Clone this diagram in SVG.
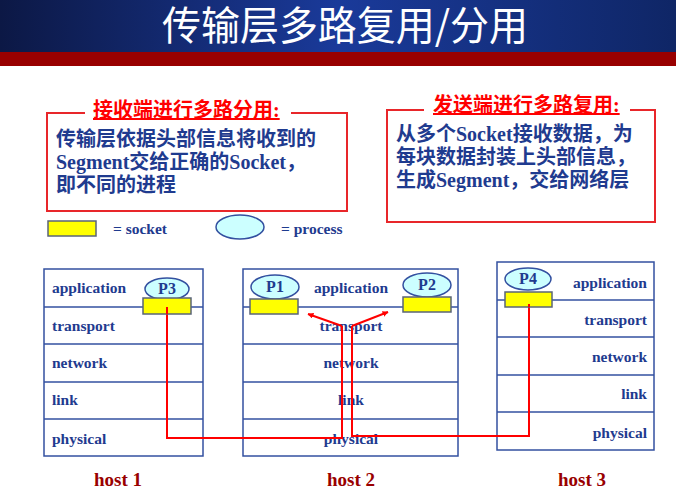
<svg xmlns="http://www.w3.org/2000/svg" width="676" height="495" viewBox="0 0 676 495">
  <defs>
    <linearGradient id="band" x1="0" y1="0" x2="1" y2="0">
      <stop offset="0" stop-color="#0c1845"/>
      <stop offset="0.5" stop-color="#1a3a9a"/>
      <stop offset="1" stop-color="#0f2666"/>
    </linearGradient>
    <marker id="arrow" viewBox="0 0 10 10" refX="9" refY="5" markerWidth="6" markerHeight="6" orient="auto" markerUnits="userSpaceOnUse">
      <path d="M0,0 L10,5 L0,10 z" fill="#ff0000"/>
    </marker>
    <style>
      .cjk { font-family: "Liberation Serif", "Noto Sans CJK SC", serif; font-weight: bold; }
      .body { font-size: 20px; fill: #1f3b8f; }
      .head { font-size: 20px; fill: #ff0000; text-decoration: underline; }
      .frame { fill: #ffffff; stroke: #e8262a; stroke-width: 2; }
      .gapfill { fill: #ffffff; }
      .host { fill: #ffffff; stroke: #3350a0; stroke-width: 1.5; }
      .sep { stroke: #3350a0; stroke-width: 1.5; }
      .lbl { font-family: "Liberation Serif", serif; font-weight: bold; font-size: 15.5px; fill: #1f3b8f; }
      .proc { fill: #ccffff; stroke: #3350a0; stroke-width: 1.5; }
      .sock { fill: #ffff00; stroke: #5a6478; stroke-width: 1.5; }
      .plbl { font-family: "Liberation Serif", serif; font-weight: bold; font-size: 16px; fill: #1f3b8f; text-anchor: middle; }
      .hostname { font-family: "Liberation Serif", serif; font-weight: bold; font-size: 19px; fill: #990000; text-anchor: middle; }
      .wire { fill: none; stroke: #ff0000; stroke-width: 2; }
    </style>
  </defs>

  <!-- title band -->
  <g id="title">
    <rect x="0" y="0" width="676" height="52" fill="url(#band)"/>
    <rect x="0" y="52" width="676" height="14" fill="#990000"/>
    <text x="345" y="40" text-anchor="middle" font-family="Noto Sans CJK SC, sans-serif" font-size="40" fill="#ffffff" textLength="366" lengthAdjust="spacingAndGlyphs">传输层多路复用/分用</text>
  </g>

  <!-- receiving side note -->
  <g id="demux-note">
    <rect class="frame" x="47" y="113" width="300" height="98"/>
    <rect class="gapfill" x="85" y="104" width="206" height="14"/>
    <text class="cjk head" x="93" y="117">接收端进行多路分用:</text>
    <text class="cjk body" x="56" y="146">传输层依据头部信息将收到的</text>
    <text class="cjk body" x="56" y="169">Segment交给正确的Socket，</text>
    <text class="cjk body" x="56" y="192">即不同的进程</text>
  </g>

  <!-- sending side note -->
  <g id="mux-note">
    <rect class="frame" x="387" y="110" width="268" height="112"/>
    <rect class="gapfill" x="424" y="101" width="206" height="14"/>
    <text class="cjk head" x="433" y="112">发送端进行多路复用:</text>
    <text class="cjk body" x="396" y="141">从多个Socket接收数据，为</text>
    <text class="cjk body" x="396" y="164">每块数据封装上头部信息，</text>
    <text class="cjk body" x="396" y="187">生成Segment，交给网络层</text>
  </g>

  <!-- legend -->
  <g id="legend">
    <rect class="sock" x="48" y="221" width="48" height="15"/>
    <text class="lbl" x="113" y="234">= socket</text>
    <ellipse class="proc" cx="240" cy="227" rx="24" ry="12"/>
    <text class="lbl" x="281" y="234">= process</text>
  </g>

  <!-- host 1 -->
  <g id="host1">
    <rect class="host" x="44" y="269" width="159" height="187"/>
    <line class="sep" x1="44" y1="307" x2="203" y2="307"/>
    <line class="sep" x1="44" y1="344" x2="203" y2="344"/>
    <line class="sep" x1="44" y1="382" x2="203" y2="382"/>
    <line class="sep" x1="44" y1="419" x2="203" y2="419"/>
    <text class="lbl" x="52" y="293">application</text>
    <text class="lbl" x="52" y="331">transport</text>
    <text class="lbl" x="52" y="368">network</text>
    <text class="lbl" x="52" y="405">link</text>
    <text class="lbl" x="52" y="444">physical</text>
    <text class="hostname" x="118" y="486">host 1</text>
  </g>

  <!-- host 2 -->
  <g id="host2">
    <rect class="host" x="243" y="269" width="215" height="187"/>
    <line class="sep" x1="243" y1="307" x2="458" y2="307"/>
    <line class="sep" x1="243" y1="344" x2="458" y2="344"/>
    <line class="sep" x1="243" y1="382" x2="458" y2="382"/>
    <line class="sep" x1="243" y1="419" x2="458" y2="419"/>
    <g text-anchor="middle">
      <text class="lbl" x="351" y="293">application</text>
      <text class="lbl" x="351" y="331">transport</text>
      <text class="lbl" x="351" y="368">network</text>
      <text class="lbl" x="351" y="405">link</text>
      <text class="lbl" x="351" y="444">physical</text>
    </g>
    <text class="hostname" x="351" y="486">host 2</text>
  </g>

  <!-- host 3 -->
  <g id="host3">
    <rect class="host" x="497" y="262" width="157" height="188"/>
    <line class="sep" x1="497" y1="300" x2="654" y2="300"/>
    <line class="sep" x1="497" y1="337" x2="654" y2="337"/>
    <line class="sep" x1="497" y1="375" x2="654" y2="375"/>
    <line class="sep" x1="497" y1="412" x2="654" y2="412"/>
    <g text-anchor="end">
      <text class="lbl" x="647" y="288">application</text>
      <text class="lbl" x="647" y="325">transport</text>
      <text class="lbl" x="647" y="362">network</text>
      <text class="lbl" x="647" y="399">link</text>
      <text class="lbl" x="647" y="438">physical</text>
    </g>
    <text class="hostname" x="582" y="486">host 3</text>
  </g>

  <!-- connectors -->
  <g id="connectors">
    <polyline class="wire" points="167,309 167,438 342,438 342,326" />
    <line class="wire" x1="342" y1="326" x2="308" y2="314" marker-end="url(#arrow)"/>
    <polyline class="wire" points="529,306 529,436 352,436 352,326" />
    <line class="wire" x1="352" y1="326" x2="388" y2="312" marker-end="url(#arrow)"/>
  </g>

  <!-- processes and sockets -->
  <g id="p3">
    <ellipse class="proc" cx="167" cy="289" rx="22" ry="11"/>
    <text class="plbl" x="167" y="294">P3</text>
    <rect class="sock" x="143" y="298" width="48" height="16"/>
  </g>
  <g id="p1">
    <ellipse class="proc" cx="275" cy="287" rx="24" ry="12"/>
    <text class="plbl" x="275" y="292">P1</text>
    <rect class="sock" x="250" y="299" width="48" height="15"/>
  </g>
  <g id="p2">
    <ellipse class="proc" cx="427" cy="285" rx="24" ry="12"/>
    <text class="plbl" x="427" y="290">P2</text>
    <rect class="sock" x="403" y="297" width="48" height="15"/>
  </g>
  <g id="p4">
    <ellipse class="proc" cx="528" cy="279" rx="23" ry="11"/>
    <text class="plbl" x="528" y="284">P4</text>
    <rect class="sock" x="505" y="292" width="47" height="15"/>
  </g>
  <!-- wire ends drawn over the socket boxes -->
  <g id="socket-taps">
    <line class="wire" x1="167" y1="307" x2="167" y2="314"/>
    <line class="wire" x1="529" y1="304" x2="529" y2="307"/>
  </g>
</svg>
